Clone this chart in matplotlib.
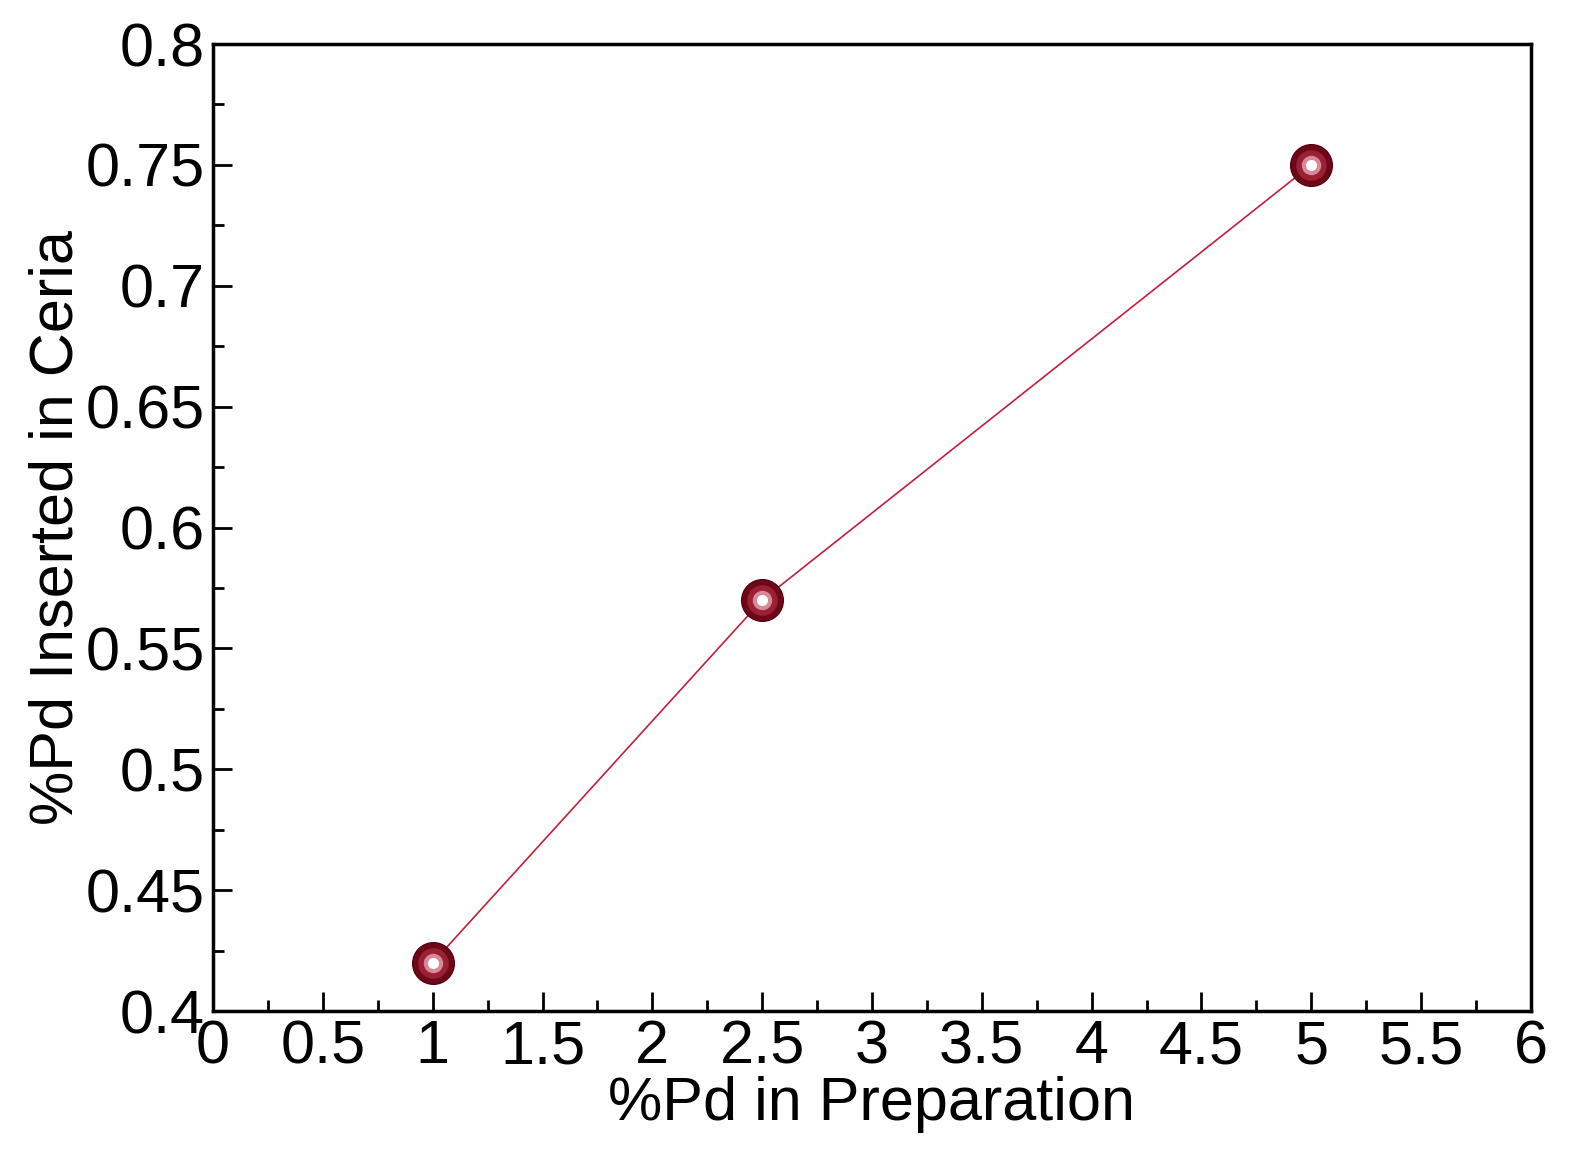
import matplotlib
matplotlib.use("Agg")
import matplotlib.pyplot as plt
from matplotlib.ticker import MultipleLocator

x_vals = [1, 2.5, 5]
y_vals = [0.42, 0.57, 0.75]

plt.rcParams['font.family'] = ['Liberation Sans', 'DejaVu Sans']
fig = plt.figure(figsize=(15.84, 11.74), dpi=100)
ax = fig.add_axes([0.1345, 0.1388, 0.832, 0.8237])
ax.plot(x_vals, y_vals, color='#c0203a', lw=1.2, zorder=2)
# sphere-like markers
ax.plot(x_vals, y_vals, 'o', ms=30, color='#6e0818', mec='#5a0010', mew=1, ls='none', zorder=3)
ax.plot(x_vals, y_vals, 'o', ms=22, color='#9a2036', mew=0, ls='none', zorder=4)
ax.plot(x_vals, y_vals, 'o', ms=14, color='#d88896', mew=0, ls='none', zorder=5)
ax.plot(x_vals, y_vals, 'o', ms=8, color='white', mew=0, ls='none', zorder=6)

ax.set_xlim(0, 6)
ax.set_ylim(0.4, 0.8)
ax.xaxis.set_major_locator(MultipleLocator(0.5))
ax.xaxis.set_minor_locator(MultipleLocator(0.25))
ax.yaxis.set_major_locator(MultipleLocator(0.05))
ax.yaxis.set_minor_locator(MultipleLocator(0.025))
ax.set_xticklabels([f"{v:g}" for v in ax.get_xticks()])
ax.set_yticklabels([f"{v:g}" for v in ax.get_yticks()])
ax.tick_params(which='both', direction='in', top=False, right=False, labelsize=44, width=2)
ax.tick_params(which='major', length=14, pad=6)
ax.tick_params(which='minor', length=8)
for s in ax.spines.values():
    s.set_linewidth(2.5)
ax.set_xlabel('%Pd in Preparation', fontsize=44, labelpad=0)
ax.set_ylabel('%Pd Inserted in Ceria', fontsize=44, labelpad=0)
fig.savefig('out.png', dpi=100)
